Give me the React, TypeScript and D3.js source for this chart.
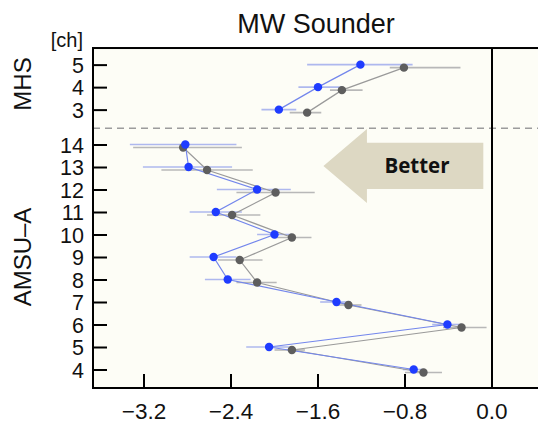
import React from 'react';
import * as d3 from 'd3';

// AMSU-A channels and their values (blue = experiment, gray = reference)
const amsuChannels = [4, 5, 6, 7, 8, 9, 10, 11, 12, 13, 14];
const amsuBlue = [-0.72, -2.05, -0.41, -1.43, -2.43, -2.56, -2.0, -2.54, -2.16, -2.79, -2.82];
const amsuBlueLo = [-0.82, -2.26, -0.55, -1.58, -2.64, -2.78, -2.16, -2.78, -2.53, -3.21, -3.33];
const amsuBlueHi = [-0.64, -1.85, -0.28, -1.3, -2.22, -2.35, -1.84, -2.3, -1.85, -2.39, -2.35];
const amsuGray = [-0.63, -1.84, -0.28, -1.32, -2.16, -2.32, -1.84, -2.39, -1.99, -2.62, -2.84];
const amsuGrayLo = [-0.8, -2.0, -0.45, -1.45, -2.35, -2.52, -2.0, -2.62, -2.35, -3.04, -3.3];
const amsuGrayHi = [-0.46, -1.72, -0.05, -1.2, -1.98, -2.11, -1.66, -2.13, -1.63, -2.2, -2.3];

// MHS channels
const mhsChannels = [3, 4, 5];
const mhsBlue = [-1.96, -1.6, -1.21];
const mhsBlueLo = [-2.12, -1.78, -1.7];
const mhsBlueHi = [-1.8, -1.37, -0.73];
const mhsGray = [-1.7, -1.38, -0.81];
const mhsGrayLo = [-1.86, -1.49, -0.94];
const mhsGrayHi = [-1.57, -1.19, -0.29];

const xTicks = [-3.2, -2.4, -1.6, -0.8, 0.0];

type Row = { pos: number; v: number; lo: number; hi: number };

const W = 538;
const H = 424;
const BLUE = '#1f3cff';
const BLUE_LINE = '#7386ec';
const BLUE_ERR = '#aeb8ee';
const GRAY = '#5e5e5e';
const GRAY_LINE = '#9a9a9a';
const GRAY_ERR = '#b8b8b8';
const FONT = '"Liberation Sans", Arial, Helvetica, sans-serif';

function rows(ch: number[], base: number, v: number[], lo: number[], hi: number[]): Row[] {
  return ch.map((c, i) => ({ pos: c + base, v: v[i], lo: lo[i], hi: hi[i] }));
}

export default function App() {
  const x = d3.scaleLinear().domain([-3.2, 0]).range([144, 492]);
  const y = d3.scaleLinear().domain([0, 10]).range([370, 145]);

  const amsuBase = -4;
  const mhsBase = 11.55 - 3;

  const blueSets = [
    rows(amsuChannels, amsuBase, amsuBlue, amsuBlueLo, amsuBlueHi),
    rows(mhsChannels, mhsBase, mhsBlue, mhsBlueLo, mhsBlueHi),
  ];
  const graySets = [
    rows(amsuChannels, amsuBase, amsuGray, amsuGrayLo, amsuGrayHi),
    rows(mhsChannels, mhsBase, mhsGray, mhsGrayLo, mhsGrayHi),
  ];

  const grayDy = 2.5;
  const blueDy = -0.5;

  const line = (dy: number) =>
    d3
      .line<Row>()
      .x((d) => x(d.v))
      .y((d) => y(d.pos) + dy);

  const left = 93;
  const top = y(14.31);
  const bottom = y(-0.8);
  const right = W + 10;
  const sepY = y(10.75);

  const tickLabels = [
    ...amsuChannels.map((c) => ({ c, pos: c + amsuBase })),
    ...mhsChannels.map((c) => ({ c, pos: c + mhsBase })),
  ];

  return (
    <svg
      width={W}
      height={H}
      style={{ position: 'absolute', left: 0, top: 0, background: '#ffffff' }}
      fontFamily={FONT}
    >
      {/* plot area */}
      <rect x={left} y={top} width={right - left} height={bottom - top} fill="#fdfdf6" />

      {/* instrument separator */}
      <line x1={left} x2={W} y1={sepY} y2={sepY} stroke="#9c9c9c" strokeWidth={1.5} strokeDasharray="7,5" />

      {/* "Better" arrow */}
      <path
        d={`M${x(-1.55)},${y(9.07)} L${x(-1.15)},${y(10.71)} L${x(-1.15)},${y(10.1)} L${x(-0.08)},${y(10.1)} L${x(-0.08)},${y(8.05)} L${x(-1.15)},${y(8.05)} L${x(-1.15)},${y(7.42)} Z`}
        fill="#ddd8c3"
      />
      <text
        x={x(-0.69)}
        y={y(9.07) + 7}
        textAnchor="middle"
        fontFamily='"Open Sans", sans-serif'
        fontWeight={700}
        fontSize={20.5}
        fill="#111"
      >
        Better
      </text>

      {/* error bars */}
      {graySets.map((set, k) =>
        set.map((d, i) => (
          <line key={`ge${k}-${i}`} x1={x(d.lo)} x2={x(d.hi)} y1={y(d.pos) + grayDy} y2={y(d.pos) + grayDy} stroke={GRAY_ERR} strokeWidth={1.6} />
        ))
      )}
      {blueSets.map((set, k) =>
        set.map((d, i) => (
          <line key={`be${k}-${i}`} x1={x(d.lo)} x2={x(d.hi)} y1={y(d.pos) + blueDy} y2={y(d.pos) + blueDy} stroke={BLUE_ERR} strokeWidth={1.6} />
        ))
      )}

      {/* connecting lines */}
      {graySets.map((set, k) => (
        <path key={`gl${k}`} d={line(grayDy)(set) || ''} fill="none" stroke={GRAY_LINE} strokeWidth={1.2} />
      ))}
      {blueSets.map((set, k) => (
        <path key={`bl${k}`} d={line(blueDy)(set) || ''} fill="none" stroke={BLUE_LINE} strokeWidth={1.2} />
      ))}

      {/* points */}
      {graySets.map((set, k) =>
        set.map((d, i) => <circle key={`gp${k}-${i}`} cx={x(d.v)} cy={y(d.pos) + grayDy} r={4.2} fill={GRAY} />)
      )}
      {blueSets.map((set, k) =>
        set.map((d, i) => <circle key={`bp${k}-${i}`} cx={x(d.v)} cy={y(d.pos) + blueDy} r={4.2} fill={BLUE} />)
      )}

      {/* zero line */}
      <line x1={x(0)} x2={x(0)} y1={top} y2={bottom} stroke="#000" strokeWidth={2} />

      {/* frame */}
      <rect x={left} y={top} width={right - left} height={bottom - top} fill="none" stroke="#000" strokeWidth={2} />

      {/* y ticks */}
      {tickLabels.map((t) => (
        <g key={`yt${t.c}-${t.pos}`}>
          <line x1={left} x2={left + 14} y1={y(t.pos)} y2={y(t.pos)} stroke="#000" strokeWidth={2} />
          <text x={84} y={y(t.pos)} dy="0.36em" textAnchor="end" fontSize={21.5} fill="#111">
            {t.c}
          </text>
        </g>
      ))}
      <text x={83} y={47} textAnchor="end" fontSize={20} fill="#111">
        [ch]
      </text>

      {/* x ticks */}
      {xTicks.map((t) => (
        <g key={`xt${t}`}>
          <line x1={x(t)} x2={x(t)} y1={bottom} y2={bottom - 14} stroke="#000" strokeWidth={2} />
          <text x={x(t)} y={419} textAnchor="middle" fontSize={22.5} fill="#111">
            {t === 0 ? '0.0' : `\u2212${Math.abs(t).toFixed(1)}`}
          </text>
        </g>
      ))}

      {/* group labels */}
      <text transform={`translate(31,${84}) rotate(-90)`} textAnchor="middle" fontSize={24} fill="#111">
        MHS
      </text>
      <text transform={`translate(31,${257}) rotate(-90)`} textAnchor="middle" fontSize={24} fill="#111">
        AMSU{'\u2013'}A
      </text>

      {/* title */}
      <text x={316} y={33} textAnchor="middle" fontSize={27} fill="#111">
        MW Sounder
      </text>
    </svg>
  );
}
